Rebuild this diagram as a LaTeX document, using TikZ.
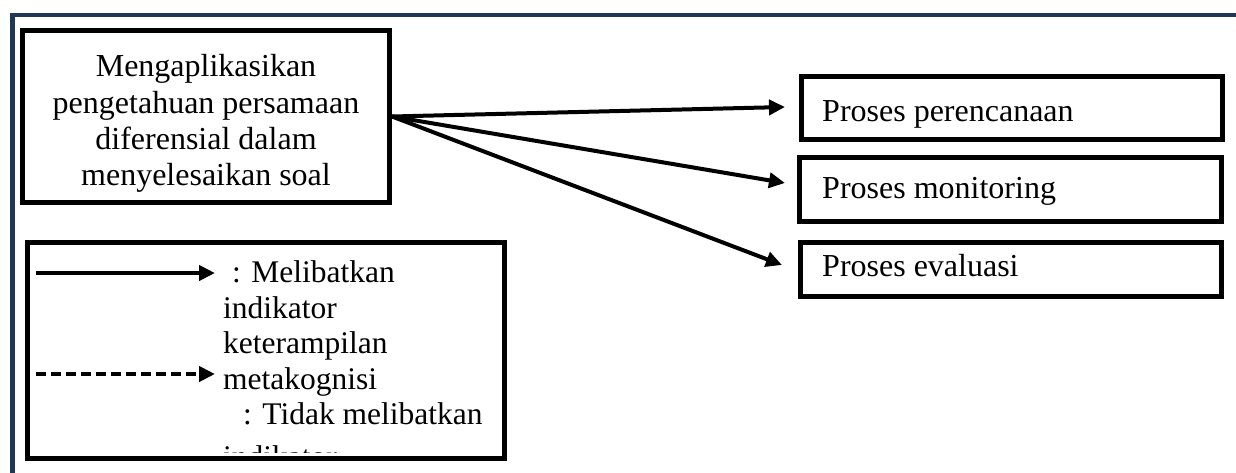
\documentclass[tikz,border=0pt]{standalone}
\usepackage{fontspec}
\setmainfont{Liberation Serif}
\usetikzlibrary{arrows.meta}
\definecolor{framenavy}{RGB}{31,56,86}
\begin{document}
\begin{tikzpicture}[x=1pt,y=-1pt,
  box/.style={draw=black, line width=5pt, rectangle, inner sep=0pt},
  txt/.style={inner sep=0pt, font=\fontsize{32}{36.2}\selectfont},
  arr/.style={line width=4pt, -{Triangle[length=16pt,width=15pt]}},
]
\useasboundingbox (0,0) rectangle (1236,472);
\begin{scope}
\clip (0,0) rectangle (1236,472);
\draw[framenavy, line width=4.5pt] (12.5,600) -- (12.5,15) -- (1300,15);
\end{scope}

% main box
\node[box, minimum width=367pt, minimum height=172pt] (main) at (206,116.5) {};
\node[txt, align=center, anchor=north] (maintxt) at (206,54.5)
  {Mengaplikasikan\\pengetahuan persamaan\\diferensial dalam\\menyelesaikan soal};

% right boxes
\node[box, minimum width=421pt, minimum height=63pt] (p1) at (1012,108) {};
\node[box, minimum width=422pt, minimum height=64pt] (p2) at (1010.5,189.5) {};
\node[box, minimum width=421pt, minimum height=54pt] (p3) at (1011,269.5) {};
\node[txt, anchor=base west] (p1t) at (822,121.7) {Proses perencanaan};
\node[txt, anchor=base west] (p2t) at (822,198) {Proses monitoring};
\node[txt, anchor=base west] (p3t) at (822,276.7) {Proses evaluasi};

\draw[arr] (main.east) -- ([xshift=-14pt,yshift=1pt]p1.west);
\draw[arr] (main.east) -- ([xshift=-12pt,yshift=6.5pt]p2.west);
\draw[arr] (main.east) -- ([xshift=-16pt,yshift=4.5pt]p3.west);

% legend
\node[box, minimum width=477pt, minimum height=216pt] (leg) at (266,350.5) {};
\coordinate (ls1) at (36,273);
\coordinate (le1) at (215,273);
\coordinate (ls2) at (36,374);
\coordinate (le2) at (215,374);
\draw[arr] (ls1) -- (le1);
\draw[arr, dash pattern=on 10pt off 5pt] (ls2) -- (le2);
\begin{scope}
\clip (27.5,242.5) rectangle (504.5,452);
\node[txt, align=left, anchor=north west, font=\fontsize{31.5}{35.5}\selectfont] (legtxt) at (223,260.5)
  {\hspace*{9pt}: Melibatkan\\indikator\\keterampilan\\metakognisi\\\hspace*{20pt}: Tidak melibatkan\\[7pt]indikator};
\end{scope}
\end{tikzpicture}
\end{document}
